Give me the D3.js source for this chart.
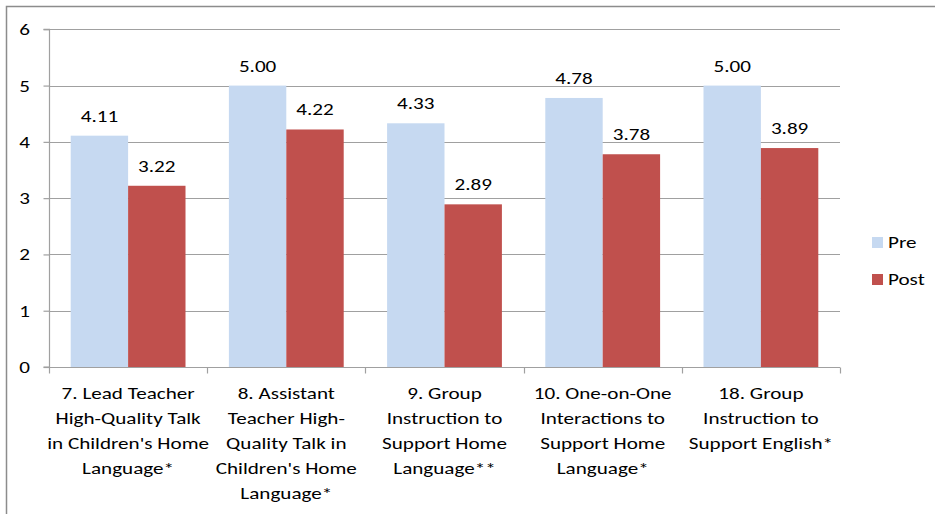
<!DOCTYPE html>
<html>
<head>
<meta charset="utf-8">
<script src="https://cdn.jsdelivr.net/npm/d3@7"></script>
<style>
  html, body { margin: 0; padding: 0; background: #fff; }
  svg text { font-family: Calibri, Carlito, Lato, "Open Sans", sans-serif; fill: #000; }
</style>
</head>
<body>
<svg id="chart" width="935" height="514"></svg>
<script>
// Item categories (line breaks mark where each label wraps)
const categories = [
  "7. Lead Teacher\nHigh-Quality Talk\nin Children's Home\nLanguage*",
  "8. Assistant\nTeacher High-\nQuality Talk in\nChildren's Home\nLanguage*",
  "9. Group\nInstruction to\nSupport Home\nLanguage**",
  "10. One-on-One\nInteractions to\nSupport Home\nLanguage*",
  "18. Group\nInstruction to\nSupport English*"
];
const seriesNames = ["Pre", "Post"];
const preValues = [4.11, 5.00, 4.33, 4.78, 5.00];
const postValues = [3.22, 4.22, 2.89, 3.78, 3.89];
const yTicks = [0, 1, 2, 3, 4, 5, 6];
const colors = ["#c6d9f1", "#c0504d"];

const svg = d3.select("#chart");
const fontSize = 16.5;
const stretch = 1.28; // wide label lettering

// Places a horizontally widened text at (x, y)
function label(parent, x, y, str, anchor) {
  const g = parent.append("g").attr("transform", `translate(${x},${y}) scale(${stretch},1)`);
  return g.append("text")
    .attr("text-anchor", anchor || "middle")
    .style("font-size", fontSize + "px")
    .text(str);
}

// Outer chart frame
svg.append("rect")
  .attr("x", 6.5).attr("y", 6.5)
  .attr("width", 940).attr("height", 520)
  .attr("fill", "none").attr("stroke", "#8c8c8c").attr("stroke-width", 1.5);

const plot = { left: 49, right: 840, top: 29.3, bottom: 367 };

const x = d3.scaleBand()
  .domain(d3.range(categories.length))
  .range([plot.left, plot.right])
  .paddingInner(0).paddingOuter(0);

const x1 = d3.scaleBand()
  .domain(seriesNames)
  .range([0, x.bandwidth()])
  .paddingInner(0)
  .paddingOuter(0.378);

const y = d3.scaleLinear().domain([0, 6]).range([plot.bottom, plot.top]);

// Horizontal gridlines
svg.append("g")
  .selectAll("line")
  .data(yTicks.filter(t => t > 0))
  .join("line")
  .attr("x1", plot.left).attr("x2", plot.right)
  .attr("y1", d => Math.round(y(d)) + 0.5).attr("y2", d => Math.round(y(d)) + 0.5)
  .attr("stroke", "#a0a0a0").attr("stroke-width", 1.2);

// Bars
const data = categories.map((c, i) => ({ i, values: [preValues[i], postValues[i]] }));
const groups = svg.append("g").selectAll("g")
  .data(data)
  .join("g")
  .attr("transform", d => `translate(${x(d.i)},0)`);

groups.selectAll("rect")
  .data(d => d.values.map((v, k) => ({ key: seriesNames[k], v, k })))
  .join("rect")
  .attr("x", d => x1(d.key))
  .attr("width", x1.bandwidth())
  .attr("y", d => y(d.v))
  .attr("height", d => y(0) - y(d.v))
  .attr("fill", d => colors[d.k]);

// Value labels above bars
groups.each(function (d) {
  const g = d3.select(this);
  d.values.forEach((v, k) => {
    label(g, x1(seriesNames[k]) + x1.bandwidth() / 2, y(v) - 14, v.toFixed(2));
  });
});

// Y axis
const yAxis = d3.axisLeft(y).tickValues(yTicks).tickSize(6).tickFormat(() => "");
const yg = svg.append("g").attr("transform", `translate(${plot.left + 0.5},0)`).call(yAxis);
yg.select(".domain").attr("stroke", "#a0a0a0").attr("stroke-width", 1.2).attr("d", `M-6,${plot.top}H0V${plot.bottom}H-6`);
yg.selectAll(".tick line").attr("stroke", "#a0a0a0").attr("stroke-width", 1.2);
yTicks.forEach(t => label(svg, 24.5, y(t) + 6, d3.format("d")(t)));

// X axis with category separators
const xAxisG = svg.append("g").attr("transform", `translate(0,${plot.bottom + 0.5})`);
xAxisG.append("line")
  .attr("x1", plot.left).attr("x2", plot.right)
  .attr("stroke", "#a0a0a0").attr("stroke-width", 1.2);
xAxisG.selectAll("line.sep")
  .data(d3.range(categories.length + 1))
  .join("line")
  .attr("class", "sep")
  .attr("x1", i => Math.round(plot.left + i * x.step()) + 0.5)
  .attr("x2", i => Math.round(plot.left + i * x.step()) + 0.5)
  .attr("y1", 0).attr("y2", 6)
  .attr("stroke", "#a0a0a0").attr("stroke-width", 1.2);

// Category labels
categories.forEach((c, i) => {
  c.split("\n").forEach((line, j) => {
    label(svg, x(i) + x.bandwidth() / 2, 399 + j * 25, line);
  });
});

// Legend
seriesNames.forEach((s, i) => {
  svg.append("rect")
    .attr("x", 872).attr("y", 237 + i * 37)
    .attr("width", 11).attr("height", 11)
    .attr("fill", colors[i]);
  label(svg, 888, 237 + i * 37 + 11, s, "start");
});
</script>
</body>
</html>
